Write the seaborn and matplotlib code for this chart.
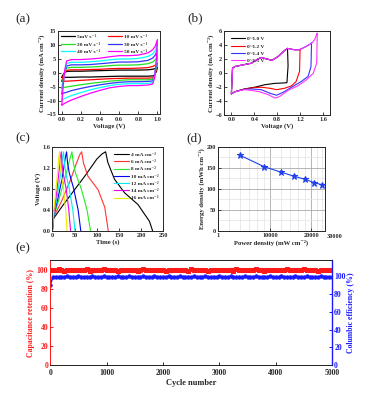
import numpy as np
import pandas as pd
import seaborn as sns
import matplotlib.pyplot as plt
from matplotlib.ticker import FixedLocator

# ---- (a) CV curves at different scan rates (one loop per rate)
cv_volt = [0.0, 0.01, 0.03, 0.05, 0.1, 0.2, 0.3, 0.4, 0.5, 0.6, 0.7, 0.8, 0.9, 0.95, 0.98, 1.0,
           0.99, 0.97, 0.95, 0.9, 0.8, 0.7, 0.6, 0.5, 0.4, 0.3, 0.2, 0.1, 0.05, 0.02, 0.0]
cv_5 = [-1.6, -0.8, 0.2, 0.5, 0.6, 0.6, 0.7, 0.8, 0.9, 1.0, 1.0, 1.0, 1.1, 1.3, 1.6, 2.0,
        0.5, -0.8, -1.1, -1.2, -1.2, -1.2, -1.2, -1.3, -1.4, -1.5, -1.5, -1.6, -1.6, -1.6, -1.6]
cv_10 = [-3.0, -1.5, 0.3, 0.9, 1.1, 1.1, 1.2, 1.3, 1.5, 1.6, 1.6, 1.7, 1.9, 2.3, 2.8, 3.5,
         1.0, -1.0, -1.8, -1.9, -1.9, -1.9, -2.0, -2.1, -2.3, -2.5, -2.7, -2.9, -3.0, -3.0, -3.0]
cv_20 = [-5.5, -3.0, 0.0, 1.7, 2.0, 2.0, 2.1, 2.3, 2.6, 2.8, 2.8, 2.9, 3.3, 3.9, 4.8, 6.0,
         2.0, -1.0, -2.3, -2.5, -2.5, -2.5, -2.7, -3.0, -3.4, -3.8, -4.3, -4.8, -5.1, -5.3, -5.5]
cv_30 = [-7.6, -4.0, 0.2, 2.5, 2.9, 2.9, 3.0, 3.3, 3.6, 3.9, 3.9, 4.0, 4.5, 5.3, 6.5, 8.5,
         3.0, -1.2, -2.9, -3.1, -3.2, -3.2, -3.4, -3.8, -4.3, -4.9, -5.6, -6.4, -7.0, -7.3, -7.6]
cv_40 = [-9.8, -5.0, 0.5, 3.4, 3.8, 3.8, 4.0, 4.3, 4.7, 5.0, 5.0, 5.2, 5.9, 6.8, 8.2, 10.5,
         4.0, -1.5, -3.5, -3.8, -3.9, -3.9, -4.1, -4.6, -5.3, -6.1, -7.1, -8.2, -8.9, -9.4, -9.8]
cv_50 = [-11.6, -6.0, 1.0, 4.3, 4.8, 4.8, 5.0, 5.3, 5.8, 6.2, 6.2, 6.4, 7.2, 8.3, 9.8, 12.0,
         5.0, -2.0, -4.0, -4.4, -4.6, -4.6, -4.9, -5.4, -6.3, -7.3, -8.5, -9.8, -10.6, -11.2, -11.6]
cv_labels = ['5mV s⁻¹', '10 mV s⁻¹', '20 mV s⁻¹', '30 mV s⁻¹', '40 mV s⁻¹', '50 mV s⁻¹']

# ---- (b) CV in different voltage windows: shared anodic part + window tail
win_up_v = [0.0, 0.02, 0.06, 0.2, 0.35, 0.44, 0.52, 0.61, 0.71, 0.81, 0.93, 0.98]
win_up_i = [-3.0, 0.67, 0.9, 1.14, 1.38, 1.86, 2.2, 2.0, 1.8, 2.3, 3.2, 3.5]
tail_10_v = [0.99, 0.97, 0.9, 0.76, 0.58, 0.41, 0.23, 0.06, 0.0]
tail_10_i = [1.0, -1.4, -1.45, -1.5, -1.7, -2.05, -2.3, -2.7, -3.0]
tail_12_v = [1.1, 1.19, 1.2, 1.19, 1.13, 1.05, 0.93, 0.79, 0.67, 0.52, 0.41, 0.23, 0.06, 0.0]
tail_12_i = [3.3, 3.3, 3.4, 0.2, -1.24, -1.86, -2.2, -2.4, -2.2, -2.05, -2.1, -2.3, -2.7, -3.0]
tail_14_v = [1.1, 1.19, 1.31, 1.39, 1.4, 1.39, 1.34, 1.22, 1.05, 0.93, 0.79, 0.67, 0.52, 0.35,
             0.23, 0.06, 0.0]
tail_14_i = [3.3, 3.3, 3.8, 4.2, 4.3, 0.9, -0.5, -1.24, -2.05, -2.67, -3.2, -2.9, -2.4, -2.3,
             -2.35, -2.7, -3.0]
tail_15_v = [1.1, 1.19, 1.31, 1.4, 1.45, 1.49, 1.5, 1.49, 1.43, 1.31, 1.16, 0.99, 0.84, 0.76,
             0.64, 0.49, 0.35, 0.23, 0.06, 0.0]
tail_15_i = [3.3, 3.3, 3.8, 4.2, 4.7, 5.5, 5.7, 1.4, -0.05, -1.0, -1.86, -2.5, -3.4, -3.6,
             -3.1, -2.7, -2.5, -2.4, -2.7, -3.0]
win_labels = ['0~1.0 V', '0~1.2 V', '0~1.4 V', '0~1.5 V']

# ---- (c) GCD curves
gcd_t_4 = [0, 3, 25, 50, 75, 100, 112, 120, 125, 140, 163, 193, 219, 226]
gcd_v_4 = [0, 0.24, 0.50, 0.78, 1.06, 1.36, 1.46, 1.50, 1.30, 0.98, 0.72, 0.50, 0.18, 0.0]
gcd_t_6 = [0, 2, 20, 40, 55, 62, 66, 70, 80, 103, 118, 126]
gcd_v_6 = [0, 0.25, 0.55, 0.95, 1.30, 1.45, 1.50, 1.29, 1.04, 0.78, 0.45, 0.0]
gcd_t_8 = [0, 2, 15, 30, 40, 44, 47, 52, 65, 78, 86]
gcd_v_8 = [0, 0.25, 0.60, 1.05, 1.38, 1.50, 1.30, 1.10, 0.80, 0.40, 0.0]
gcd_t_10 = [0, 2, 12, 22, 29, 32, 34, 38, 48, 58, 64]
gcd_v_10 = [0, 0.25, 0.60, 1.00, 1.38, 1.50, 1.30, 1.10, 0.80, 0.40, 0.0]
gcd_t_12 = [0, 2, 10, 18, 23, 25, 27, 30, 38, 46, 51]
gcd_v_12 = [0, 0.25, 0.62, 1.05, 1.40, 1.50, 1.30, 1.10, 0.80, 0.40, 0.0]
gcd_t_14 = [0, 1.5, 8, 14, 18, 20, 21.5, 24, 31, 37, 41]
gcd_v_14 = [0, 0.25, 0.62, 1.05, 1.40, 1.50, 1.30, 1.10, 0.80, 0.40, 0.0]
gcd_t_16 = [0, 1.5, 6, 11, 14.5, 16, 17, 19.5, 25, 30, 33]
gcd_v_16 = [0, 0.25, 0.62, 1.05, 1.40, 1.50, 1.30, 1.10, 0.80, 0.40, 0.0]
gcd_labels = ['4 mA cm⁻²', '6 mA cm⁻²', '8 mA cm⁻²', '10 mA cm⁻²', '12 mA cm⁻²',
              '14 mA cm⁻²', '16 mA cm⁻²']

# ---- (d) Ragone plot
power = [6000, 9000, 12000, 15000, 18000, 21000, 24000]
energy = [180, 153, 140, 130, 123, 115, 110]

# ---- (e) cycling stability (sampled every 50 cycles)
cycles = [1] + list(range(50, 5001, 50))
retention = [99.6, 99.2, 99.8, 100.3, 99.5, 99.1, 99.9, 100.2, 99.4, 99.7,
             100.1, 99.3, 99.6, 100.4, 99.0, 99.8, 100.0, 99.5, 99.2, 100.3,
             99.7, 99.4, 100.1, 99.6, 99.0, 99.9, 100.2, 99.3, 99.8, 99.5,
             100.0, 99.1, 99.7, 100.3, 99.4, 99.6, 99.9, 99.2, 100.1, 99.5,
             99.8, 99.0, 100.2, 99.6, 99.3, 99.9, 100.0, 99.4, 99.7, 99.1,
             100.3, 99.5, 99.8, 99.2, 100.1, 99.6, 99.0, 99.9, 100.2, 99.4,
             99.7, 99.3, 100.0, 99.5, 99.8, 99.1, 100.3, 99.6, 99.4, 99.9,
             100.1, 99.2, 99.7, 100.4, 99.5, 99.8, 99.0, 100.2, 99.6, 99.3,
             99.9, 100.0, 99.4, 99.7, 100.3, 99.2, 99.8, 100.1, 99.5, 99.6,
             100.4, 99.3, 99.9, 100.2, 99.7, 99.1, 100.0, 99.6, 99.8, 99.4, 99.7]
efficiency = [90.6, 98.6, 99.4, 99.0, 99.6, 99.2, 99.8, 99.1, 99.5, 99.3,
              99.7, 99.0, 99.4, 99.6, 99.2, 99.8, 99.3, 99.5, 99.1, 99.7,
              99.4, 99.0, 99.6, 99.2, 99.8, 99.3, 99.5, 99.1, 99.7, 99.4,
              99.0, 99.6, 99.2, 99.8, 99.3, 99.5, 99.1, 99.7, 99.4, 99.0,
              99.6, 99.2, 99.8, 99.3, 99.5, 99.1, 99.7, 99.4, 99.0, 99.6,
              99.2, 99.8, 99.3, 99.5, 99.1, 99.7, 99.4, 99.0, 99.6, 99.2,
              99.8, 99.3, 99.5, 99.1, 99.7, 99.4, 99.0, 99.6, 99.2, 99.8,
              99.3, 99.5, 99.1, 99.7, 99.4, 99.0, 99.6, 99.2, 99.8, 99.3,
              99.5, 99.1, 99.7, 99.4, 99.0, 99.6, 99.2, 99.8, 99.3, 99.5,
              99.1, 99.7, 99.4, 99.0, 99.6, 99.2, 99.8, 99.3, 99.5, 99.1, 99.4]

sns.set_theme(style="ticks")
plt.rcParams['font.family'] = ['Liberation Serif', 'DejaVu Serif']
plt.rcParams['font.weight'] = 'bold'
plt.rcParams['axes.labelweight'] = 'bold'
plt.rcParams['axes.linewidth'] = 0.7
plt.rcParams['xtick.direction'] = 'in'
plt.rcParams['ytick.direction'] = 'in'
plt.rcParams['xtick.major.size'] = 2
plt.rcParams['ytick.major.size'] = 2
plt.rcParams['xtick.major.pad'] = 1.5
plt.rcParams['ytick.major.pad'] = 1.5

fig = plt.figure(figsize=(3.77, 3.96), dpi=100)
ax_a = fig.add_axes([0.154, 0.711, 0.271, 0.210])
ax_b = fig.add_axes([0.594, 0.710, 0.281, 0.212])
ax_c = fig.add_axes([0.139, 0.417, 0.294, 0.213])
ax_d = fig.add_axes([0.578, 0.417, 0.284, 0.212])
ax_e = fig.add_axes([0.133, 0.078, 0.748, 0.265])

tick_fs = 4.5
lab_fs = 4.8
leg_fs = 3.9

def style(ax):
    ax.tick_params(labelsize=tick_fs, width=0.6)
    for s in ax.spines.values():
        s.set_visible(True)
        s.set_linewidth(0.7)

# (a)
cv_colors = ['black', '#ff0000', '#22dd22', '#3333ff', '#00ffff', '#ff00ff']
for vals, col, lab in zip([cv_5, cv_10, cv_20, cv_30, cv_40, cv_50], cv_colors, cv_labels):
    sns.lineplot(x=cv_volt, y=vals, sort=False, estimator=None, color=col, lw=0.9,
                 label=lab, ax=ax_a)
ax_a.set_xlim(-0.04, 1.03)
ax_a.set_ylim(-15, 15)
ax_a.set_xticks([0.0, 0.2, 0.4, 0.6, 0.8, 1.0])
ax_a.set_yticks([-15, -10, -5, 0, 5, 10, 15])
ax_a.set_xlabel('Voltage (V)', fontsize=lab_fs, labelpad=1)
ax_a.set_ylabel('Current density (mA cm⁻²)', fontsize=lab_fs, labelpad=1)
h, l = ax_a.get_legend_handles_labels()
order = [0, 2, 4, 1, 3, 5]
ax_a.legend([h[i] for i in order], [l[i] for i in order], ncol=2, loc='upper left',
            bbox_to_anchor=(-0.02, 1.02), frameon=False, fontsize=leg_fs,
            handlelength=2.6, labelspacing=0.45, columnspacing=1.6, handletextpad=0.3)
style(ax_a)

# (b)
win_colors = ['black', '#ff0000', '#3333ff', '#ff33ff']
for tv, ti, col, lab in zip([tail_10_v, tail_12_v, tail_14_v, tail_15_v],
                            [tail_10_i, tail_12_i, tail_14_i, tail_15_i], win_colors, win_labels):
    sns.lineplot(x=win_up_v + tv, y=win_up_i + ti, sort=False, estimator=None, color=col,
                 lw=0.8, label=lab, ax=ax_b)
ax_b.set_xlim(-0.13, 1.72)
ax_b.set_ylim(-6, 6)
ax_b.set_xticks([0.0, 0.4, 0.8, 1.2, 1.6])
ax_b.set_yticks([-6, -4, -2, 0, 2, 4, 6])
ax_b.set_xlabel('Voltage (V)', fontsize=lab_fs, labelpad=1)
ax_b.set_ylabel('Current density (mA cm⁻²)', fontsize=lab_fs, labelpad=1)
ax_b.legend(loc='upper left', bbox_to_anchor=(0.02, 0.99), frameon=False, fontsize=leg_fs,
            handlelength=2.6, labelspacing=0.45, handletextpad=0.4)
style(ax_b)

# (c)
gcd_colors = ['black', '#ff3333', '#22ee22', '#0000ee', '#00eeee', '#ee00ee', '#eeee00']
gcd_t = [gcd_t_4, gcd_t_6, gcd_t_8, gcd_t_10, gcd_t_12, gcd_t_14, gcd_t_16]
gcd_v = [gcd_v_4, gcd_v_6, gcd_v_8, gcd_v_10, gcd_v_12, gcd_v_14, gcd_v_16]
for t, v, col, lab in zip(gcd_t, gcd_v, gcd_colors, gcd_labels):
    sns.lineplot(x=t, y=v, sort=False, estimator=None, color=col, lw=0.8, label=lab, ax=ax_c)
ax_c.set_xlim(0, 250)
ax_c.set_ylim(0, 1.6)
ax_c.set_xticks([0, 50, 100, 150, 200, 250])
ax_c.set_yticks([0.0, 0.4, 0.8, 1.2, 1.6])
ax_c.set_xlabel('Time (s)', fontsize=lab_fs, labelpad=1)
ax_c.set_ylabel('Voltage (V)', fontsize=lab_fs, labelpad=1)
ax_c.legend(loc='upper right', bbox_to_anchor=(1.0, 0.99), frameon=False, fontsize=leg_fs,
            handlelength=2.6, labelspacing=0.45, handletextpad=0.4)
style(ax_c)

# (d)
sns.lineplot(x=power, y=energy, color='#2040ee', marker='*', markersize=4.5, mec='#2040ee',
             lw=0.8, ax=ax_d)
ax_d.set_xscale('log')
ax_d.set_xlim(4120, 25300)
ax_d.set_ylim(0, 200)
ax_d.xaxis.set_major_locator(FixedLocator([4120, 10000, 20000]))
ax_d.set_xticklabels(['1', '10000', '20000'])
ax_d.xaxis.set_minor_locator(FixedLocator([5000, 6000, 7000, 8000, 9000, 12000, 14000,
                                           16000, 18000, 22000, 24000]))
ax_d.xaxis.set_minor_formatter(plt.NullFormatter())
ax_d.set_yticks([0, 50, 100, 150, 200])
ax_d.yaxis.set_minor_locator(FixedLocator([25, 75, 125, 175]))
ax_d.text(30000, -0.035, '30000', transform=ax_d.get_xaxis_transform(), ha='center',
          va='top', fontsize=tick_fs, clip_on=False)
ax_d.grid(which='major', color='#a8a8a8', lw=0.6)
ax_d.grid(which='minor', color='#e2e2e2', lw=0.5)
ax_d.tick_params(which='minor', length=0)
ax_d.set_xlabel('Power density (mW cm⁻²)', fontsize=lab_fs, labelpad=1)
ax_d.set_ylabel('Energy density (mWh cm⁻²)', fontsize=lab_fs, labelpad=1)
style(ax_d)

# (e)
ax_e2 = ax_e.twinx()
sns.lineplot(x=cycles, y=retention, color='#ff1a1a', marker='s', markersize=2.4, mec='#ff1a1a',
             lw=1.1, ax=ax_e)
sns.lineplot(x=cycles, y=efficiency, color='#1a1aff', marker='o', markersize=2.4, mec='#1a1aff',
             lw=1.1, ax=ax_e2)
ax_e.set_xlim(0, 5000)
ax_e.set_ylim(0, 110)
ax_e2.set_ylim(0, 118)
ax_e.set_xticks([0, 1000, 2000, 3000, 4000, 5000])
ax_e.set_yticks([0, 20, 40, 60, 80, 100])
ax_e2.set_yticks([0, 20, 40, 60, 80, 100])
ax_e.set_xlabel('Cycle number', fontsize=6, labelpad=1)
ax_e.set_ylabel('Capacitance retention (%)', fontsize=5.6, color='#ff1a1a', labelpad=1)
ax_e2.set_ylabel('Columbic efficiency (%)', fontsize=5.6, color='#1a1aff', labelpad=1)
for a in (ax_e, ax_e2):
    a.tick_params(labelsize=5.6, width=0.7, length=2.5)
ax_e.tick_params(axis='x', pad=3)
ax_e.tick_params(axis='y', colors='#ff1a1a')
ax_e2.tick_params(axis='y', colors='#1a1aff')
ax_e.spines['left'].set_color('#ff1a1a')
ax_e2.spines['left'].set_color('#ff1a1a')
ax_e2.spines['right'].set_color('#1a1aff')
ax_e2.spines['right'].set_linewidth(1.0)

# panel letters
for x, y, s in [(0.04, 0.952, '(a)'), (0.497, 0.955, '(b)'), (0.04, 0.65, '(c)'),
                (0.495, 0.652, '(d)'), (0.04, 0.373, '(e)')]:
    fig.text(x, y, s, fontsize=9.5, fontweight='normal', va='center')

fig.savefig('out.png', dpi=100)
